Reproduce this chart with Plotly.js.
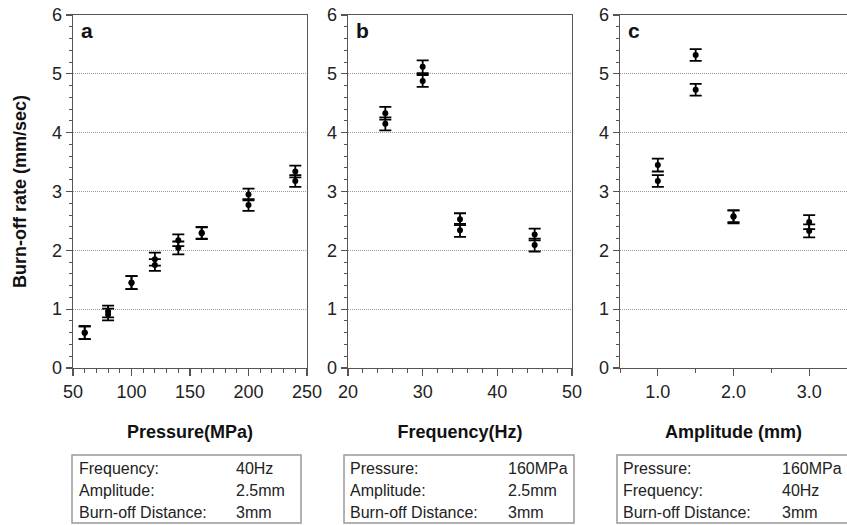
<!DOCTYPE html>
<html><head><meta charset="utf-8">
<script src="https://cdn.plot.ly/plotly-3.0.1.min.js"></script>
<style>html,body{margin:0;padding:0;background:#fff}#chart{width:847px;height:525px}</style>
</head><body><div id="chart"></div>
<script>
// ---- data ----
const pressure = [60, 80, 100, 120, 140, 160, 200, 240];
const rateP_A  = [0.60, 0.96, 1.45, 1.85, 2.17, 2.29, 2.95, 3.34];
const rateP_B  = [0.60, 0.91, 1.45, 1.75, 2.04, 2.30, 2.77, 3.18];
const errP_A   = [0.11, 0.10, 0.11, 0.11, 0.10, 0.10, 0.10, 0.10];
const errP_B   = [0.11, 0.10, 0.11, 0.10, 0.11, 0.10, 0.10, 0.10];

const frequency = [25, 30, 35, 45];
const rateF_A   = [4.33, 5.12, 2.53, 2.27];
const rateF_B   = [4.15, 4.88, 2.34, 2.09];
const errF_A    = [0.11, 0.11, 0.10, 0.10];
const errF_B    = [0.11, 0.10, 0.11, 0.11];

const amplitude = [1.0, 1.5, 2.0, 3.0];
const rateA_A   = [3.45, 5.32, 2.58, 2.48];
const rateA_B   = [3.18, 4.73, 2.57, 2.33];
const errA_A    = [0.11, 0.10, 0.10, 0.12];
const errA_B    = [0.10, 0.10, 0.11, 0.11];

const panelLetters = ["a", "b", "c"];
const xTitles = ["Pressure(MPa)", "Frequency(Hz)", "Amplitude (mm)"];
const yTitle = "Burn-off rate (mm/sec)";
const boxLabels = [
  ["Frequency:", "Amplitude:", "Burn-off Distance:"],
  ["Pressure:", "Amplitude:", "Burn-off Distance:"],
  ["Pressure:", "Frequency:", "Burn-off Distance:"]
];
const boxValues = [
  ["40Hz", "2.5mm", "3mm"],
  ["160MPa", "2.5mm", "3mm"],
  ["160MPa", "40Hz", "3mm"]
];

// ---- styling ----
const W = 847, H = 525;
const FONT = "Liberation Sans, Arial, sans-serif";
const px = v => v / W, py = v => 1 - v / H;

function series(x, y, err, xa, ya) {
  return {
    x: x, y: y, type: "scatter", mode: "markers", xaxis: xa, yaxis: ya,
    marker: {symbol: "circle", size: 6, color: "#000"},
    error_y: {type: "data", array: err, visible: true, color: "#000", thickness: 1.8, width: 6},
    showlegend: false, hoverinfo: "x+y"
  };
}

const data = [
  series(pressure, rateP_A, errP_A, "x", "y"),
  series(pressure, rateP_B, errP_B, "x", "y"),
  series(frequency, rateF_A, errF_A, "x2", "y2"),
  series(frequency, rateF_B, errF_B, "x2", "y2"),
  series(amplitude, rateA_A, errA_A, "x3", "y3"),
  series(amplitude, rateA_B, errA_B, "x3", "y3")
];

const yDomain = [py(368), py(15)];
function xAxis(domain, range, dtick, minorDtick, anchor, title, fmt, mirror) {
  return {
    domain: domain, range: range, anchor: anchor, dtick: dtick, tick0: 0,
    tickformat: fmt || "", showline: true, linecolor: "#555", linewidth: 1.3, mirror: mirror,
    ticks: "outside", ticklen: 7, tickwidth: 1.2, tickcolor: "#555",
    minor: {dtick: minorDtick, ticks: "outside", ticklen: 4, tickwidth: 1, tickcolor: "#555", showgrid: false},
    showgrid: false, zeroline: false,
    tickfont: {family: FONT, size: 18, color: "#222"},
    title: {text: title, font: {family: FONT, size: 18, color: "#111", weight: "bold"}, standoff: 24}
  };
}
function yAxis(anchor, showTitle, mirror) {
  return {
    domain: yDomain, range: [0, 6], anchor: anchor, dtick: 1,
    showline: true, linecolor: "#555", linewidth: 1.3, mirror: mirror,
    ticks: "outside", ticklen: 6, tickwidth: 1.2, tickcolor: "#555",
    minor: {dtick: 0.2, ticks: "outside", ticklen: 3, tickwidth: 1, tickcolor: "#555", showgrid: false},
    showgrid: true, gridcolor: "#999", griddash: "1px,1px", gridwidth: 1, zeroline: false,
    tickfont: {family: FONT, size: 18, color: "#222"},
    title: showTitle ? {text: yTitle, font: {family: FONT, size: 18, color: "#111", weight: "bold"}, standoff: 20} : {text: ""}
  };
}

const shapes = [];
const annotations = [];
const boxX = [[72, 301], [344, 574], [617, 860]];
const labelX = [77, 348, 621];
const valueX = [234, 506, 780];
const rowY = [468, 490, 512];
const letterX = [79, 354, 626];
for (let i = 0; i < 3; i++) {
  shapes.push({type: "rect", xref: "paper", yref: "paper",
    x0: px(boxX[i][0]), x1: px(boxX[i][1]), y0: py(523), y1: py(455),
    line: {color: "#999", width: 1.5}, fillcolor: "rgba(0,0,0,0)"});
  for (let r = 0; r < 3; r++) {
    annotations.push({xref: "paper", yref: "paper", x: px(labelX[i]), y: py(rowY[r]),
      xanchor: "left", yanchor: "middle", showarrow: false, text: boxLabels[i][r],
      font: {family: FONT, size: 16, color: "#222"}});
    annotations.push({xref: "paper", yref: "paper", x: px(valueX[i]), y: py(rowY[r]),
      xanchor: "left", yanchor: "middle", showarrow: false, text: boxValues[i][r],
      font: {family: FONT, size: 16, color: "#222"}});
  }
  annotations.push({xref: "paper", yref: "paper", x: px(letterX[i]), y: py(30),
    xanchor: "left", yanchor: "middle", showarrow: false, text: "<b>" + panelLetters[i] + "</b>",
    font: {family: FONT, size: 21, color: "#111"}});
}

const layout = {
  width: W, height: H,
  margin: {l: 0, r: 0, t: 0, b: 0},
  paper_bgcolor: "#fff", plot_bgcolor: "#fff",
  showlegend: false,
  xaxis:  xAxis([px(73), px(307)], [50, 250], 50, 10, "y", xTitles[0], "", true),
  xaxis2: xAxis([px(348), px(572)], [20, 50], 10, 2, "y2", xTitles[1], "", true),
  xaxis3: xAxis([px(620), 1], [0.5, 3.5], 1, 0.5, "y3", xTitles[2], ".1f", true),
  yaxis:  yAxis("x", true, true),
  yaxis2: yAxis("x2", false, true),
  yaxis3: yAxis("x3", false, false),
  shapes: shapes, annotations: annotations
};

Plotly.newPlot("chart", data, layout, {displayModeBar: false, staticPlot: true});
</script></body></html>
